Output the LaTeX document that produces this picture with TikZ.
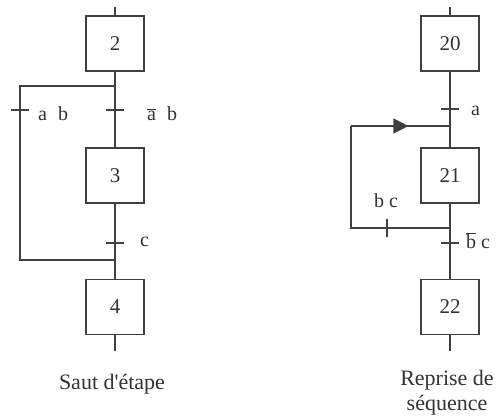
\documentclass[tikz,border=0pt]{standalone}
\usepackage{fontspec}
\setmainfont{Liberation Serif}
\usetikzlibrary{arrows.meta,decorations.markings}
\newcommand{\olbar}[1]{$\overline{\mbox{#1}}$}
\begin{document}
\begin{tikzpicture}[x=1pt,y=-1pt,
  ln/.style={draw=black!75,line width=1.3pt},
  stepbox/.style={ln,minimum width=58pt,minimum height=55pt,inner sep=0pt,font=\fontsize{21}{24}\selectfont,text=black!80},
  lbl/.style={font=\fontsize{20}{24}\selectfont,text=black!80,inner sep=0pt},
  captxt/.style={font=\fontsize{22}{25}\selectfont,text=black!80,inner sep=0pt}]
\useasboundingbox[fill=white] (0,0) rectangle (501,416);
% ---------- left: Saut d'etape ----------
\node[stepbox] (s2) at (115,43.5) {2};
\node[stepbox] (s3) at (115,175.5) {3};
\node[stepbox] (s4) at (115,307) {4};
\coordinate (t2) at (115,7);
\coordinate (b4) at (115,351);
\coordinate (d1) at (115,86);
\coordinate (dl) at (20,86);
\coordinate (jl) at (20,260);
\coordinate (j1) at (115,260);
\draw[ln] (t2) -- (s2.north);
\draw[ln] (s2.south) -- (s3.north);
\draw[ln] (s3.south) -- (s4.north);
\draw[ln] (s4.south) -- (b4);
\draw[ln] (d1) -- (dl) -- (jl) -- (j1);
% transitions
\coordinate (tl) at (20,110);
\coordinate (tm) at (115,110);
\coordinate (tc) at (115,243);
\draw[ln] ([xshift=-9pt]tl) -- ([xshift=9pt]tl);
\draw[ln] ([xshift=-9pt]tm) -- ([xshift=9pt]tm);
\draw[ln] ([xshift=-9pt]tc) -- ([xshift=9pt]tc);
\node[lbl,anchor=base west] (lab) at (38,120) {a\hspace{0.55em}b};
\node[lbl,anchor=base west] (lnab) at (147,120) {\olbar{a}\hspace{0.55em}b};
\node[lbl,anchor=base west] (lc) at (140,246) {c};
\node[captxt,anchor=base] (capl) at (112,389) {Saut d\textquotesingle étape};
% ---------- right: Reprise de sequence ----------
\node[stepbox] (s20) at (450,43.5) {20};
\node[stepbox] (s21) at (450,175.5) {21};
\node[stepbox] (s22) at (450,307) {22};
\coordinate (t20) at (450,7);
\coordinate (b22) at (450,351);
\coordinate (r1) at (450,126);
\coordinate (rl) at (351,126);
\coordinate (rb) at (351,228);
\coordinate (r2) at (450,228);
\draw[ln] (t20) -- (s20.north);
\draw[ln] (s20.south) -- (s21.north);
\draw[ln] (s21.south) -- (s22.north);
\draw[ln] (s22.south) -- (b22);
\draw[ln] (r2) -- (rb) -- (rl);
\draw[ln,postaction={decorate},decoration={markings,
  mark=at position 0.58 with {\arrow{Triangle[length=15pt,width=15pt]}}}] (rl) -- (r1);
\coordinate (ta) at (450,109);
\coordinate (tbc) at (450,243);
\coordinate (tr) at (387,228);
\draw[ln] ([xshift=-9pt]ta) -- ([xshift=9pt]ta);
\draw[ln] ([xshift=-9pt]tbc) -- ([xshift=9pt]tbc);
\draw[ln] ([yshift=-9pt]tr) -- ([yshift=9pt]tr);
\node[lbl,anchor=base west] (la) at (471,115) {a};
\node[lbl,anchor=base west] (lnbc) at (466,248) {\olbar{b}\hspace{0.25em}c};
\node[lbl,anchor=base] (lbc) at (386,207) {b c};
\node[captxt,anchor=base] (capr1) at (447,385) {Reprise de};
\node[captxt,anchor=base] (capr2) at (447,410) {séquence};
\end{tikzpicture}
\end{document}
